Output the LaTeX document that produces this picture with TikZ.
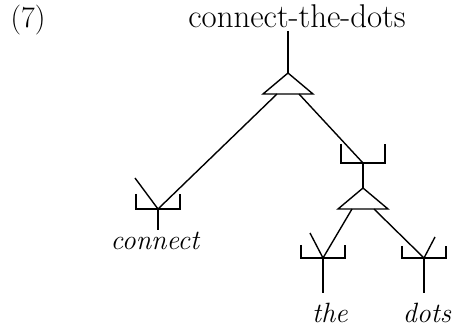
\documentclass[tikz,border=0pt]{standalone}
\usetikzlibrary{calc}

% bracket above a junction: #1 junction, #2 height of the ticks
\newcommand{\tickbox}[2]{%
  \draw ($(#1)+(-22bp,#2)$) -- ($(#1)+(-22bp,0bp)$) -- ($(#1)+(22bp,0bp)$) -- ($(#1)+(22bp,#2)$);}
% triangle hanging from apex #1, with corners #1l and #1r where branches leave
\newcommand{\mergetri}[1]{%
  \draw (#1) -- ++(-25bp,-21bp) -- ++(50bp,0bp) -- cycle;
  \coordinate (#1l) at ($(#1)+(-11bp,-21bp)$);
  \coordinate (#1r) at ($(#1)+(11bp,-21bp)$);}

\begin{document}
\begin{tikzpicture}[line width=1.4pt,
    every node/.style={inner sep=2bp, anchor=base, font=\fontsize{28}{34}\selectfont},
    form/.style={font=\fontsize{30}{36}\selectfont},
    whole form/.style={font=\fontsize{33}{40}\selectfont},
    word/.style={font=\fontsize{28}{34}\selectfont\itshape}]
  \useasboundingbox (0bp,0bp) rectangle (454bp,329bp);

  \node (num)   at (28bp,301bp)  [form] {(7)};
  \node (whole) at (297bp,301bp) [whole form] {connect-the-dots};
  \node (conn)  at (155bp,79bp)  [word] {connect};
  \node (the)   at (330bp,7bp)   [word] {the};
  \node (dots)  at (427bp,7bp)   [word] {dots};

  \coordinate (top) at (288bp,256bp);
  \coordinate (low) at (363bp,141bp);
  \coordinate (cJ)  at (158bp,120bp);
  \coordinate (mJ)  at (363bp,166bp);
  \coordinate (tJ)  at (323bp,71bp);
  \coordinate (dJ)  at (424bp,71bp);

  \mergetri{top}
  \mergetri{low}
  \tickbox{cJ}{15bp}
  \tickbox{mJ}{19bp}
  \tickbox{tJ}{13bp}
  \tickbox{dJ}{12bp}

  \draw (whole.south -| top) -- (top);
  \draw (topl) -- (cJ);
  \draw (topr) -- (mJ);
  \draw (mJ) -- (low);
  \draw (lowl) -- (tJ);
  \draw (lowr) -- (dJ);
  % short arms
  \draw (cJ) -- ++(-23bp,31bp);
  \draw (tJ) -- ++(-13bp,25bp);
  \draw (dJ) -- ++(11bp,21bp);
  % stems down to the words
  \draw (cJ) -- (cJ |- conn.north);
  \draw[shorten >=7bp] (tJ) -- (tJ |- the.north);
  \draw[shorten >=7bp] (dJ) -- (dJ |- dots.north);
\end{tikzpicture}
\end{document}
